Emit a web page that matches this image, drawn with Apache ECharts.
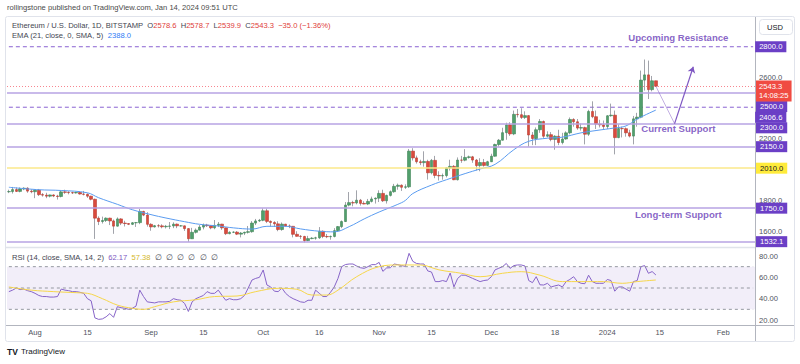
<!DOCTYPE html>
<html><head><meta charset="utf-8">
<script src="https://cdn.jsdelivr.net/npm/echarts@6/dist/echarts.min.js"></script>
<style>html,body{margin:0;padding:0;background:#fff}#c{width:800px;height:364px}</style>
</head><body><div id="c"></div>
<script>
// ---------- DATA ----------
const startDate = '2023-07-25';
const dayCount = 200; // through 2024-02-09 (right edge of the time scale)

// daily candles [open, high, low, close], 2023-07-25 .. 2024-01-14
const ohlc = [
// Jul 25-31
[1857,1870,1848,1858],[1858,1888,1845,1871],[1871,1885,1855,1859],[1859,1885,1853,1875],[1875,1886,1867,1880],[1880,1886,1850,1861],[1861,1873,1847,1857],
// Aug
[1857,1873,1815,1867],[1867,1875,1829,1838],[1838,1848,1825,1835],[1835,1850,1815,1828],[1828,1838,1820,1836],[1836,1840,1822,1829],[1829,1837,1806,1826],
[1826,1862,1820,1856],[1856,1870,1843,1853],[1853,1860,1840,1851],[1851,1857,1842,1849],[1849,1856,1845,1852],[1852,1856,1838,1842],[1842,1862,1833,1840],
[1840,1846,1817,1828],[1828,1831,1801,1808],[1808,1812,1550,1685],[1685,1697,1640,1663],[1663,1695,1650,1670],[1670,1690,1660,1685],[1685,1688,1640,1667],
[1667,1676,1583,1633],[1633,1690,1630,1680],[1680,1685,1640,1653],[1653,1668,1631,1650],[1650,1652,1640,1645],[1645,1660,1640,1655],[1655,1660,1628,1656],
[1656,1745,1646,1729],[1729,1733,1698,1705],[1705,1724,1630,1645],
// Sep
[1645,1652,1603,1628],[1628,1641,1624,1636],[1636,1646,1624,1635],[1635,1645,1619,1629],[1629,1641,1618,1632],[1632,1660,1614,1634],[1634,1658,1620,1646],
[1646,1650,1620,1635],[1635,1640,1630,1635],[1635,1637,1602,1617],[1617,1620,1531,1551],[1551,1622,1550,1593],[1593,1618,1585,1607],[1607,1640,1605,1627],
[1627,1650,1612,1640],[1640,1648,1628,1636],[1636,1640,1613,1622],[1622,1673,1613,1638],[1638,1660,1627,1646],[1646,1648,1609,1622],[1622,1624,1575,1584],
[1584,1600,1580,1593],[1593,1600,1588,1594],[1594,1601,1575,1581],[1581,1595,1560,1588],[1588,1597,1575,1593],[1593,1634,1585,1597],[1597,1666,1590,1653],
[1653,1680,1640,1667],[1667,1680,1660,1671],
// Oct
[1671,1749,1665,1733],[1733,1747,1653,1664],[1664,1670,1630,1657],[1657,1665,1628,1648],[1648,1665,1600,1611],[1611,1657,1603,1646],[1646,1648,1630,1634],
[1634,1644,1620,1632],[1632,1634,1560,1580],[1580,1600,1565,1567],[1567,1575,1550,1566],[1566,1570,1527,1539],[1539,1570,1535,1552],[1552,1562,1548,1555],
[1555,1564,1545,1557],[1557,1627,1550,1600],[1600,1605,1555,1566],[1566,1582,1555,1564],[1564,1572,1545,1566],[1566,1620,1560,1604],[1604,1634,1600,1630],
[1630,1670,1620,1663],[1663,1790,1660,1770],[1770,1855,1762,1786],[1786,1798,1762,1784],[1784,1866,1775,1802],[1802,1810,1767,1781],[1781,1795,1775,1777],
[1777,1810,1770,1794],[1794,1825,1787,1810],[1810,1820,1780,1815],
// Nov
[1815,1866,1790,1846],[1846,1870,1790,1798],[1798,1838,1780,1833],[1833,1865,1826,1857],[1857,1908,1850,1892],[1892,1910,1870,1899],[1899,1905,1862,1886],
[1886,1905,1875,1889],[1889,2135,1882,2121],[2121,2140,2060,2077],[2077,2092,2040,2052],[2052,2065,2030,2046],[2046,2120,2020,2054],[2054,2065,1936,1980],
[1980,2070,1970,2061],[2061,2090,1945,1963],[1963,1990,1930,1960],[1960,1975,1935,1962],[1962,2015,1950,2012],[2012,2065,1995,2022],[2022,2030,1932,1935],
[1935,2080,1930,2063],[2063,2090,2045,2062],[2062,2134,2055,2080],[2080,2092,2072,2084],[2084,2090,2045,2063],[2063,2070,1995,2027],[2027,2075,1990,2047],
[2047,2070,2020,2028],[2028,2058,2025,2052],
// Dec
[2052,2104,2050,2088],[2088,2170,2085,2164],[2164,2200,2150,2192],[2192,2273,2190,2241],[2241,2306,2195,2292],[2292,2309,2220,2233],[2233,2385,2225,2360],
[2360,2395,2340,2358],[2358,2400,2330,2340],[2340,2380,2330,2352],[2352,2355,2150,2226],[2226,2245,2160,2203],[2203,2275,2160,2260],[2260,2330,2240,2314],
[2314,2320,2207,2218],[2218,2250,2210,2228],[2228,2245,2185,2197],[2197,2225,2130,2218],[2218,2260,2160,2177],[2177,2240,2165,2200],[2200,2250,2195,2240],
[2240,2340,2230,2327],[2327,2335,2280,2312],[2312,2330,2260,2271],[2271,2300,2255,2274],[2274,2280,2165,2231],[2231,2390,2220,2379],[2379,2445,2335,2345],
[2345,2385,2265,2297],[2297,2325,2275,2292],[2292,2320,2265,2281],
// Jan 1-14
[2281,2355,2265,2351],[2351,2430,2345,2355],[2355,2385,2100,2209],[2209,2295,2205,2268],[2268,2280,2210,2267],[2267,2275,2215,2240],[2240,2260,2210,2219],
[2219,2350,2165,2331],[2331,2370,2280,2342],[2342,2645,2335,2583],[2583,2717,2515,2617],[2617,2710,2460,2521],[2521,2610,2510,2578.6],[2578.6,2578.7,2539.9,2543.3]
];

// EMA(21): [day index from start, value]
const emaPoints = [[0,1886],[8,1870],[14,1865],[21,1850],[24,1818],[29,1775],[33,1740],[38,1708],[42,1686],[47,1662],[51,1645],[56,1634],[60,1622],[65,1614],[69,1632],[74,1632],[78,1615],[83,1600],[87,1596],[91,1630],[95,1680],[99,1725],[104,1775],[106,1800],[108,1845],[113,1900],[117,1935],[122,1975],[126,2005],[130,2035],[135,2130],[139,2185],[144,2205],[148,2212],[153,2240],[157,2255],[162,2272],[165,2285],[168,2330],[173,2388]];

// RSI(14) daily values
const rsiValues = [46.6,48,50,48.5,49,47.5,46.6,45,43,42,42,41.5,41.5,42,49,48,47.5,46.6,46.6,46,45,40,38,22,20.6,21,23,26,22.5,32.5,31.5,31,30,31,33,48,42,37,36.5,36,37,37,37,37.5,40,39,38.5,35.5,28,37,40,41.5,43,46.6,45,45,48,43,38.5,40,39,39,40,43,50,57.5,59,60,66.9,52.8,51,47,46.6,50,45,42,40,38.5,37,36.5,38.5,38.5,48,45,42,42,46,51,59,70,72,72.5,72.5,70.6,69,68.4,70,71.9,71.9,74,65.6,68.8,69,72.5,71.9,71,70.3,82.5,75,73,72.5,72.5,66,65,56,56,57,56,64,51,59,62,62,60.6,59,57.5,56,57,57.5,60.6,67,68.5,70,73,68.4,71,71.6,71.6,70.6,57,55,60.6,53,52.8,54.4,51,52,52.8,51,56,58,60.6,56,54.4,54,62,56,54.4,54.4,54.4,58,57,47,51,51,49,47,56,57,70,71,63.8,65.4,62.2];

// RSI smoothing (SMA 14): [day index, value]
const rsiSmaPoints = [[0,51],[6,48],[12,46.6],[18,45.6],[21,45],[25,40],[29,34],[33,31],[36,30],[39,32.5],[44,37],[50,39],[55,42],[61,42.5],[66,46.6],[72,49.7],[77,48.8],[81,43.4],[85,43.4],[88,48],[93,60.6],[99,70],[104,71.6],[110,71.6],[115,67],[121,63.8],[126,60.6],[132,63.8],[137,65.3],[142,62],[148,56],[153,56],[159,56],[164,54.4],[168,56],[173,57.5]];

// horizontal levels
const dashedLevels = [2800, 2406.6];
const supportLevels = [2500, 2300, 2150, 1750, 1532.1];
const yellowLevels = [2010];
const lastPrice = 2543.3;
const lastTimer = '14:08:25';
const rsiGuides = [70, 50, 30];

// axis tick labels
const priceTicks = [1600, 1800, 2200, 2600];
const rsiTicks = [20, 40, 60, 80];
const timeTicks = {'2023-08-01':'Aug','2023-08-15':'15','2023-09-01':'Sep','2023-09-15':'15','2023-10-01':'Oct','2023-10-16':'16','2023-11-01':'Nov','2023-11-15':'15','2023-12-01':'Dec','2023-12-18':'18','2024-01-01':'2024','2024-01-15':'15','2024-02-01':'Feb'};

// drawn annotations (date, price)
const annotationTexts = ['Upcoming Resistance', 'Current Support', 'Long-term Support'];
const annotationPoints = [['2024-01-20', 2863], ['2024-01-20', 2265], ['2024-01-20', 1712]];
const arrowPath = [['2024-01-14', 2543], ['2024-01-19', 2300], ['2024-01-24', 2670]];

// ---------- CHART ----------
const categories = [];
const t0 = Date.parse(startDate + 'T00:00:00Z');
for (let i = 0; i < dayCount; i++) categories.push(new Date(t0 + i * 86400000).toISOString().slice(0, 10));

const FF = '"Liberation Sans", Arial, sans-serif';
const PURPLE_BOX = '#6b3fc6';
const fmt1 = v => Number(v).toFixed(1);

const wickData = ohlc.map(r => [r[0], r[3], r[2], r[1]]);
const bodyData = ohlc.map(r => [r[0], r[3], Math.min(r[0], r[3]), Math.max(r[0], r[3])]);

const stackOffsets = {2500: 13.7, 2406.6: 10, 2300: 4.2};
function boxLabel(v, bg, fg) {
  return {show: true, position: 'end', distance: 1, formatter: fmt1(v), backgroundColor: bg, color: fg,
    padding: [2, 4, 1, 4], fontSize: 7.6, fontFamily: FF, offset: [0, stackOffsets[v] || 0]};
}
function levelItem(v, lineStyle, bg, fg) {
  return {yAxis: v, symbol: 'none', lineStyle: Object.assign({}, lineStyle), label: boxLabel(v, bg, fg)};
}
const SUPPORT = {color: '#b7a3e3', type: 'solid', width: 1.6};
const YELLOW = {color: '#fbe98a', type: 'solid', width: 1.5};
const levelData = [];
supportLevels.forEach(v => levelData.push(levelItem(v, SUPPORT, PURPLE_BOX, '#fff')));
yellowLevels.forEach(v => levelData.push(levelItem(v, YELLOW, '#ffeb3b', '#131722')));
levelData.push({yAxis: lastPrice, symbol: 'none', lineStyle: {color: 'rgba(242,54,69,0.6)', type: [1, 2], width: 1},
  label: {show: true, position: 'end', distance: 1, formatter: fmt1(lastPrice) + '\n' + lastTimer, backgroundColor: '#f04b42', color: '#fff',
    padding: [2, 3, 1, 3], lineHeight: 9, fontSize: 7.6, fontFamily: FF, offset: [0, 4.8]}});

// dashed levels drawn as two-point line series spanning the time scale
const dashedSeries = dashedLevels.map(v => ({
  type: 'line', name: 'dashed ' + v, xAxisIndex: 0, yAxisIndex: 0, silent: true, z: 1,
  data: [[categories[0], v], [categories[dayCount - 1], v]], symbol: 'none', showSymbol: false,
  lineStyle: {color: '#8a63d2', type: [4, 3], width: 1},
  endLabel: {show: true, distance: 2, formatter: fmt1(v), backgroundColor: PURPLE_BOX, color: '#fff',
    padding: [2, 4, 1, 4], fontSize: 7.6, fontFamily: FF, offset: [0, stackOffsets[v] || 0]}
}));

const arrowData = [
  [
    {coord: arrowPath[0], symbol: 'none', lineStyle: {color: 'rgba(126,87,194,0.6)', width: 0.8, type: 'solid'}, label: {show: false}},
    {coord: arrowPath[1], symbol: 'none'}
  ],
  [
    {coord: arrowPath[1], symbol: 'none', lineStyle: {color: '#7e57c2', width: 1.2, type: 'solid'}, label: {show: false}},
    {coord: arrowPath[2], symbol: 'arrow', symbolSize: 6}
  ]
];

const option = {
  animation: false,
  backgroundColor: '#ffffff',
  grid: [
    {left: 7, right: 45, top: 18, height: 228.6},
    {left: 7, right: 45, top: 248, height: 72}
  ],
  xAxis: [
    {gridIndex: 0, type: 'category', data: categories, boundaryGap: true, show: false},
    {gridIndex: 1, type: 'category', data: categories, boundaryGap: true, offset: 5,
      axisLine: {show: false}, axisTick: {show: false}, splitLine: {show: false},
      axisLabel: {interval: (i, v) => timeTicks[v] !== undefined, formatter: v => timeTicks[v] || '', fontSize: 7.6, color: '#50535e', fontFamily: FF, margin: 3}}
  ],
  yAxis: [
    {gridIndex: 0, type: 'value', position: 'right', min: 1500, max: 2987, interval: 100,
      splitLine: {show: false}, axisLine: {show: false}, axisTick: {show: false},
      axisLabel: {margin: 4, fontSize: 7.6, color: '#50535e', fontFamily: FF, formatter: v => priceTicks.includes(v) ? fmt1(v) : ''}},
    {gridIndex: 1, type: 'value', position: 'right', min: 20, max: 87.5, interval: 20,
      splitLine: {show: false}, axisLine: {show: false}, axisTick: {show: false},
      axisLabel: {margin: 4, fontSize: 7.6, color: '#50535e', fontFamily: FF, formatter: v => rsiTicks.includes(v) ? Number(v).toFixed(2) : ''}}
  ],
  series: [
    {type: 'line', name: 'levels', xAxisIndex: 0, yAxisIndex: 0, data: [], silent: true, z: 1,
      markLine: {silent: true, symbol: ['none', 'none'], data: levelData}},
    ...dashedSeries,
    {type: 'candlestick', name: 'wick', xAxisIndex: 0, yAxisIndex: 0, data: wickData, barWidth: 1, silent: true, z: 2,
      itemStyle: {color: '#8a8d96', color0: '#8a8d96', borderColor: '#8a8d96', borderColor0: '#8a8d96', borderWidth: 0.8}},
    {type: 'candlestick', name: 'body', xAxisIndex: 0, yAxisIndex: 0, data: bodyData, barWidth: 3, silent: true, z: 3,
      itemStyle: {color: '#519f6c', color0: '#da4a3d', borderColor: '#3f8458', borderColor0: '#b93c31', borderWidth: 0.6}},
    {type: 'line', name: 'EMA', xAxisIndex: 0, yAxisIndex: 0, data: emaPoints, smooth: 0.4, showSymbol: false, silent: true, z: 4,
      lineStyle: {color: '#5b9cf0', width: 1},
      markLine: {silent: true, symbol: ['none', 'none'], data: arrowData}},
    {type: 'scatter', name: 'notes', xAxisIndex: 0, yAxisIndex: 0, symbolSize: 1, silent: true, z: 5,
      itemStyle: {color: 'rgba(0,0,0,0)'},
      data: annotationPoints.map((p, i) => ({value: p, name: annotationTexts[i]})),
      label: {show: true, position: 'inside', formatter: p => p.name, color: '#6a3db8', fontSize: 9.6, fontWeight: 'bold', fontFamily: FF}},
    {type: 'line', name: 'RSI', xAxisIndex: 1, yAxisIndex: 1, data: rsiValues, showSymbol: false, silent: true,
      lineStyle: {color: '#8764c8', width: 1},
      markArea: {silent: true, itemStyle: {color: 'rgba(126,87,194,0.10)'}, data: [[{yAxis: 30}, {yAxis: 70}]]}},
    ...rsiGuides.map(v => ({
      type: 'line', name: 'guide ' + v, xAxisIndex: 1, yAxisIndex: 1, silent: true, symbol: 'none', showSymbol: false,
      data: [[categories[0], v], [categories[dayCount - 1], v]], lineStyle: {color: '#9598a1', type: [3, 3], width: 1}})),
    {type: 'line', name: 'RSI-MA', xAxisIndex: 1, yAxisIndex: 1, data: rsiSmaPoints, smooth: 0.4, showSymbol: false, silent: true,
      lineStyle: {color: '#f6d64a', width: 1}}
  ],
  graphic: [
    {type: 'rect', silent: true, shape: {x: 5.5, y: 16.5, width: 789, height: 325, r: 2}, style: {fill: 'none', stroke: '#e0e3eb', lineWidth: 1}},
    {type: 'line', silent: true, shape: {x1: 755.5, y1: 17, x2: 755.5, y2: 341}, style: {stroke: '#b2b5be', lineWidth: 1}},
    {type: 'line', silent: true, shape: {x1: 6, y1: 247.5, x2: 755, y2: 247.5}, style: {stroke: '#e0e3eb', lineWidth: 1.5}},
    {type: 'line', silent: true, shape: {x1: 6, y1: 325.5, x2: 794, y2: 325.5}, style: {stroke: '#b2b5be', lineWidth: 1}},
    {type: 'text', silent: true, left: 7, top: 3, style: {text: 'rollingstone published on TradingView.com, Jan 14, 2024 09:51 UTC', fontSize: 7.6, fill: '#4a4a4a', fontFamily: FF}},
    {type: 'text', silent: true, left: 12, top: 21.5, style: {
      text: 'Ethereum / U.S. Dollar, 1D, BITSTAMP  O{r|2578.6}  H{r|2578.7}  L{r|2539.9}  C{r|2543.3}  {r|−35.0 (−1.36%)}',
      fontSize: 7.6, fill: '#434651', fontFamily: FF, rich: {r: {fill: '#e0403a', fontSize: 7.6, fontFamily: FF}}}},
    {type: 'text', silent: true, left: 12, top: 31, style: {
      text: 'EMA (21, close, 0, SMA, 5)  {b|2388.0}', fontSize: 7.6, fill: '#434651', fontFamily: FF,
      rich: {b: {fill: '#2f7cf6', fontSize: 7.6, fontFamily: FF}}}},
    {type: 'text', silent: true, left: 12, top: 253.5, style: {
      text: 'RSI (14, close, SMA, 14, 2)  {p|62.17}  {y|57.38}  {g|∅  ∅  ∅  ∅  ∅  ∅}', fontSize: 7.6, fill: '#434651', fontFamily: FF,
      rich: {p: {fill: '#7e57c2', fontSize: 7.6}, y: {fill: '#d4b82a', fontSize: 7.6}, g: {fill: '#434651', fontSize: 7.6}}}},
    {type: 'rect', silent: true, shape: {x: 759.5, y: 19.5, width: 33, height: 15, r: 3}, style: {fill: '#fff', stroke: '#e0e3eb'}},
    {type: 'text', silent: true, left: 767, top: 23.5, style: {text: 'USD', fontSize: 7.6, fill: '#131722', fontFamily: FF}},
    {type: 'text', silent: true, left: 7, top: 347, style: {text: 'TV', fontSize: 8.5, fontWeight: 'bold', fill: '#131722', fontFamily: FF}},
    {type: 'text', silent: true, left: 21, top: 347.5, style: {text: 'TradingView', fontSize: 8, fill: '#131722', fontFamily: FF}}
  ]
};
const chart = echarts.init(document.getElementById('c'), null, {renderer: 'svg'});
chart.setOption(option);
</script></body></html>
